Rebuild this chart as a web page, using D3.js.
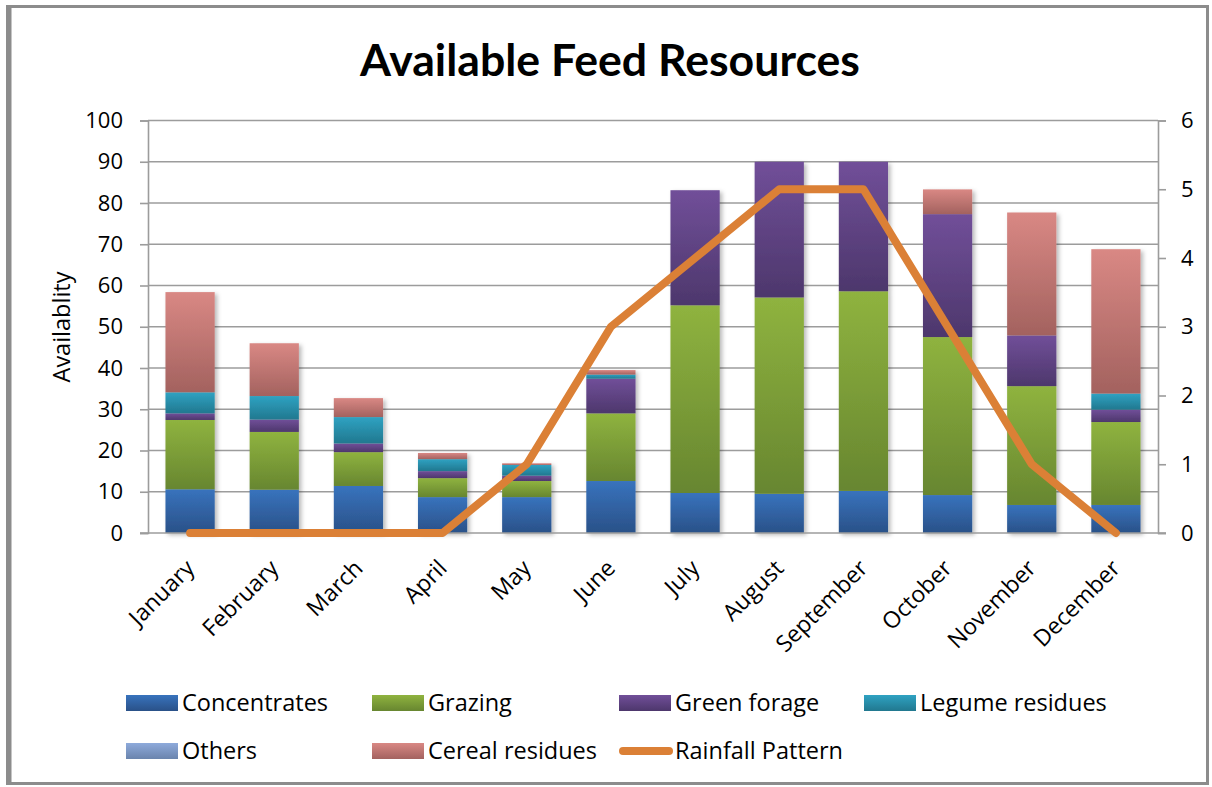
<!DOCTYPE html>
<html>
<head>
<meta charset="utf-8">
<script src="https://cdn.jsdelivr.net/npm/d3@7"></script>
<style>
  html, body { margin: 0; padding: 0; background: #fff; }
  svg { display: block; font-family: "Open Sans", Lato, sans-serif; }
</style>
</head>
<body>
<svg id="chart" width="1212" height="787"></svg>
<script>
// Monthly feed availability by source (stacked) and rainfall pattern (right axis)
const months = ["January", "February", "March", "April", "May", "June",
                "July", "August", "September", "October", "November", "December"];

const concentrates   = [10.6, 10.5, 11.4, 8.7, 8.7, 12.6, 9.7, 9.5, 10.2, 9.2, 6.8, 6.8];
const grazing        = [16.8, 14.0, 8.2, 4.6, 3.9, 16.4, 45.5, 47.6, 48.4, 38.3, 28.8, 20.1];
const greenForage    = [1.6, 3.0, 2.1, 1.7, 1.3, 8.4, 27.9, 32.9, 31.4, 29.8, 12.3, 3.0];
const legumeResidues = [5.1, 5.7, 6.4, 2.9, 2.6, 1.0, 0, 0, 0, 0, 0, 3.9];
const others         = [0, 0, 0, 0, 0, 0, 0, 0, 0, 0, 0, 0];
const cerealResidues = [24.3, 12.8, 4.6, 1.5, 0.4, 1.1, 0, 0, 0, 6.0, 29.8, 35.0];
const rainfall       = [0, 0, 0, 0, 1, 3, 4, 5, 5, 3, 1, 0];

const leftTicks  = [0, 10, 20, 30, 40, 50, 60, 70, 80, 90, 100];
const rightTicks = [0, 1, 2, 3, 4, 5, 6];

const seriesNames = ["Concentrates", "Grazing", "Green forage", "Legume residues", "Others", "Cereal residues"];
const seriesValues = [concentrates, grazing, greenForage, legumeResidues, others, cerealResidues];
const seriesColors = [
  ["#3873bd", "#2a5188"],
  ["#8fb33f", "#678630"],
  ["#714f99", "#4d376c"],
  ["#2fa2c2", "#21788f"],
  ["#8eaadb", "#6a84ad"],
  ["#d98884", "#a3625f"]
];
const lineColor = "#db8036";

const svg = d3.select("#chart");
const W = 1212, H = 787;
const plot = { left: 148, right: 1158, top: 120.5, bottom: 533 };

// outer frame
svg.append("rect").attr("x", 0).attr("y", 0).attr("width", W).attr("height", H).attr("fill", "#fff");
svg.append("rect")
  .attr("x", 7.5).attr("y", 6.5).attr("width", 1200).attr("height", 777)
  .attr("fill", "none").attr("stroke", "#8c8c8c").attr("stroke-width", 3);
svg.append("line").attr("x1", 9).attr("x2", 9).attr("y1", 5).attr("y2", 785)
  .attr("stroke", "#8c8c8c").attr("stroke-width", 5);

const defs = svg.append("defs");
seriesColors.forEach((c, i) => {
  const g = defs.append("linearGradient").attr("id", "grad" + i)
    .attr("x1", 0).attr("y1", 0).attr("x2", 0).attr("y2", 1);
  g.append("stop").attr("offset", "0%").attr("stop-color", c[0]);
  g.append("stop").attr("offset", "100%").attr("stop-color", c[1]);
});
const shadow = defs.append("filter").attr("id", "barShadow")
  .attr("x", "-20%").attr("y", "-5%").attr("width", "150%").attr("height", "115%");
shadow.append("feDropShadow").attr("dx", 2.5).attr("dy", 2).attr("stdDeviation", 2.2)
  .attr("flood-color", "#000").attr("flood-opacity", 0.28);

// scales
const x = d3.scaleBand().domain(months).range([plot.left, plot.right]).paddingInner(0.415).paddingOuter(0.2075);
const y = d3.scaleLinear().domain([0, 100]).range([plot.bottom, plot.top]);
const y2 = d3.scaleLinear().domain([0, 6]).range([plot.bottom, plot.top]);

// gridlines
svg.append("g").selectAll("line").data(leftTicks.filter(t => t > 0)).join("line")
  .attr("x1", plot.left).attr("x2", plot.right)
  .attr("y1", d => y(d)).attr("y2", d => y(d))
  .attr("stroke", "#9c9c9c").attr("stroke-width", 1.6);

// left axis
const leftAxis = svg.append("g").attr("transform", `translate(${plot.left},0)`)
  .call(d3.axisLeft(y).tickValues(leftTicks).tickSize(8).tickPadding(17));
leftAxis.select(".domain").attr("stroke", "#9c9c9c").attr("stroke-width", 1.6);
leftAxis.selectAll(".tick line").attr("stroke", "#9c9c9c").attr("stroke-width", 1.6);
leftAxis.selectAll("text").attr("font-size", 22).attr("fill", "#000").attr("font-family", "Open Sans");

// right axis
const rightAxis = svg.append("g").attr("transform", `translate(${plot.right},0)`)
  .call(d3.axisRight(y2).tickValues(rightTicks).tickSize(8).tickPadding(15).tickFormat(d3.format("d")));
rightAxis.select(".domain").attr("stroke", "#9c9c9c").attr("stroke-width", 1.6);
rightAxis.selectAll(".tick line").attr("stroke", "#9c9c9c").attr("stroke-width", 1.6);
rightAxis.selectAll("text").attr("font-size", 22).attr("fill", "#000").attr("font-family", "Open Sans");

// stacked columns
const stackData = months.map((m, i) => {
  const row = { month: m };
  seriesNames.forEach((s, k) => row[s] = seriesValues[k][i]);
  return row;
});
const stacked = d3.stack().keys(seriesNames)(stackData);

const cols = svg.append("g").selectAll("g").data(months).join("g")
  .attr("filter", "url(#barShadow)");
cols.each(function(m, i) {
  const g = d3.select(this);
  stacked.forEach((layer, k) => {
    const d = layer[i];
    if (d[1] - d[0] <= 0) return;
    g.append("rect")
      .attr("x", x(m)).attr("width", x.bandwidth())
      .attr("y", y(d[1])).attr("height", y(d[0]) - y(d[1]))
      .attr("fill", `url(#grad${k})`);
  });
});

// bottom axis line
svg.append("line").attr("x1", plot.left - 8).attr("x2", plot.right + 8)
  .attr("y1", plot.bottom).attr("y2", plot.bottom)
  .attr("stroke", "#9c9c9c").attr("stroke-width", 1.6);

// rainfall line
const line = d3.line().x((d, i) => x(months[i]) + x.bandwidth() / 2).y(d => y2(d));
svg.append("path").datum(rainfall).attr("d", line)
  .attr("fill", "none").attr("stroke", lineColor).attr("stroke-width", 8)
  .attr("stroke-linejoin", "round").attr("stroke-linecap", "round");

// month labels
svg.append("g").selectAll("text").data(months).join("text")
  .attr("transform", d => `translate(${x(d) + x.bandwidth() / 2},${plot.bottom + 31}) rotate(-45)`)
  .attr("text-anchor", "end").attr("dy", "0.35em")
  .attr("font-size", 23).attr("fill", "#000")
  .text(d => d);

// y axis title
svg.append("text")
  .attr("transform", `translate(70,327) rotate(-90)`)
  .attr("text-anchor", "middle").attr("font-size", 23.5).attr("fill", "#000")
  .text("Availablity");

// title
const title = svg.append("text")
  .attr("x", 610).attr("y", 76).attr("text-anchor", "middle")
  .attr("font-weight", "bold").attr("font-size", 40).attr("fill", "#000")
  .attr("font-family", "Lato")
  .text("Available Feed Resources");
const tw = title.node().getComputedTextLength();
title.attr("font-size", 40 * 500 / tw);

// legend
const legendItems = [
  { name: "Concentrates", type: "rect", k: 0, x: 126, y: 703 },
  { name: "Grazing", type: "rect", k: 1, x: 372, y: 703 },
  { name: "Green forage", type: "rect", k: 2, x: 619, y: 703 },
  { name: "Legume residues", type: "rect", k: 3, x: 864, y: 703 },
  { name: "Others", type: "rect", k: 4, x: 126, y: 751 },
  { name: "Cereal residues", type: "rect", k: 5, x: 372, y: 751 },
  { name: "Rainfall Pattern", type: "line", x: 619, y: 751 }
];
const lg = svg.append("g").selectAll("g").data(legendItems).join("g")
  .attr("transform", d => `translate(${d.x},${d.y})`);
lg.filter(d => d.type === "rect").append("rect")
  .attr("x", 0).attr("y", -8).attr("width", 52).attr("height", 16)
  .attr("fill", d => `url(#grad${d.k})`);
lg.filter(d => d.type === "line").append("line")
  .attr("x1", 4).attr("x2", 50).attr("y1", 0).attr("y2", 0)
  .attr("stroke", lineColor).attr("stroke-width", 8).attr("stroke-linecap", "round");
lg.append("text").attr("x", 56).attr("y", 0).attr("dy", "0.36em")
  .attr("font-size", 23.5).attr("fill", "#000").text(d => d.name);
</script>
</body>
</html>
